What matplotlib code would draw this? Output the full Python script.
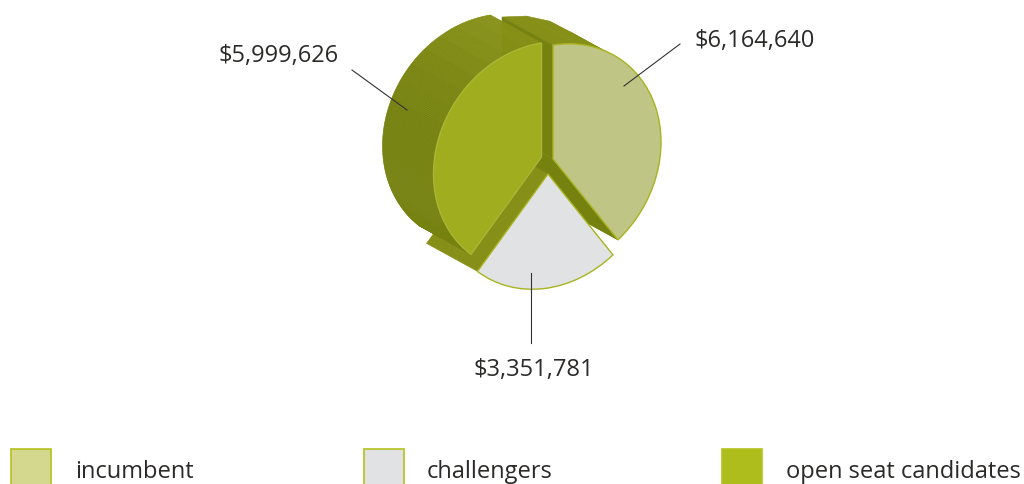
#Import
import matplotlib
matplotlib.use("Agg")
import matplotlib.pyplot as plt
import numpy as np
from matplotlib.patches import Polygon, Rectangle, Wedge
from matplotlib.transforms import Affine2D

#Data
categories = ["incumbent", "challengers", "open seat candidates"]
amounts = [6164640, 3351781, 5999626]
amount_labels = ["$6,164,640", "$3,351,781", "$5,999,626"]

#Colours
face_colors = ["#bfc584", "#e0e2e3", "#a0ad1e"]
edge_colors = ["#a8b420", "#a8b420", "#aab636"]
swatch_colors = ["#d3d88e", "#e0e2e3", "#afbd1c"]
dark_wall = "#768210"
mid_wall = "#868f17"
text_color = "#2b2a29"

#Pie geometry (pixels), the disc is a skewed circle pushed back along depth
centers = [(553, 160), (548, 175), (541.5, 158)]
axis_x = (108, -17)
axis_y = (0, -114)
depth = np.array([-51, -28])

fig = plt.figure(figsize=(10.24, 4.85), dpi=100)
ax = fig.add_axes([0, 0, 1, 1])
ax.set_xlim(0, 1024)
ax.set_ylim(485, 0)
ax.axis("off")

# angles clockwise from the top
shares = np.array(amounts) / sum(amounts)
ends = np.cumsum(shares) * 360
starts = ends - shares * 360


def rim(center, angle):
    a = np.radians(angle)
    return np.array([center[0] + np.sin(a) * axis_x[0] + np.cos(a) * axis_y[0],
                     center[1] + np.sin(a) * axis_x[1] + np.cos(a) * axis_y[1]])


def wall(center, angle, color, z):
    c = np.array(center, dtype=float)
    r = rim(center, angle)
    ax.add_patch(Polygon([c, r, r + depth, c + depth], fc=color, ec=color, lw=0.3, zorder=z))


def side(center, a0, a1, colors, z):
    # outer curved side, small quads so the outline does not cross itself
    edges = np.linspace(a0, a1, len(colors) + 1)
    for i, col in enumerate(colors):
        ts = np.linspace(edges[i], edges[i + 1], 12)
        for t0, t1 in zip(ts[:-1], ts[1:]):
            p0, p1 = rim(center, t0), rim(center, t1)
            ax.add_patch(Polygon([p0, p1, p1 + depth, p0 + depth], fc=col, ec=col, lw=0.4, zorder=z))


# incumbent back parts
side(centers[0], starts[0], ends[0], [mid_wall], 1)
wall(centers[0], starts[0], dark_wall, 2)
wall(centers[0], ends[0], dark_wall, 2)

# challengers wall next to open seat
wall(centers[1], ends[1], mid_wall, 3)

# open seat curved side, light at the top and dark on the left
open_side = ["#768210"] * 8 + ["#788410", "#7a8511", "#7c8712", "#7f8a13", "#828d15", "#858f17", "#879118"]
side(centers[2], starts[2], ends[2], open_side, 4)

# front faces
for i in range(3):
    m = Affine2D.from_values(axis_x[0], axis_x[1], axis_y[0], axis_y[1], centers[i][0], centers[i][1])
    ax.add_patch(Wedge((0, 0), 1, 90 - ends[i], 90 - starts[i], fc=face_colors[i], ec=edge_colors[i],
                       lw=1.0, transform=m + ax.transData, zorder=5))

# leader lines and amounts
ax.plot([680, 624], [45, 87], color="#333333", lw=0.8, zorder=6)
ax.plot([531, 531], [274, 344], color="#333333", lw=0.8, zorder=6)
ax.plot([352, 407], [71, 111], color="#333333", lw=0.8, zorder=6)
label_font = dict(family="Open Sans", fontsize=17, color=text_color, va="baseline")
ax.text(695, 47, amount_labels[0], ha="left", **label_font)
ax.text(473.5, 376, amount_labels[1], ha="left", **label_font)
ax.text(219, 62, amount_labels[2], ha="left", **label_font)

# legend
swatch_x = [11, 364, 722]
legend_x = [75, 427, 786]
for i in range(3):
    ax.add_patch(Rectangle((swatch_x[i], 449.5), 40, 40, fc=swatch_colors[i], ec="#b4c11e", lw=1.2, clip_on=True))
    ax.text(legend_x[i], 478, categories[i], family="Open Sans", fontsize=17, color=text_color, va="baseline")

fig.savefig("out.png", dpi=100)
